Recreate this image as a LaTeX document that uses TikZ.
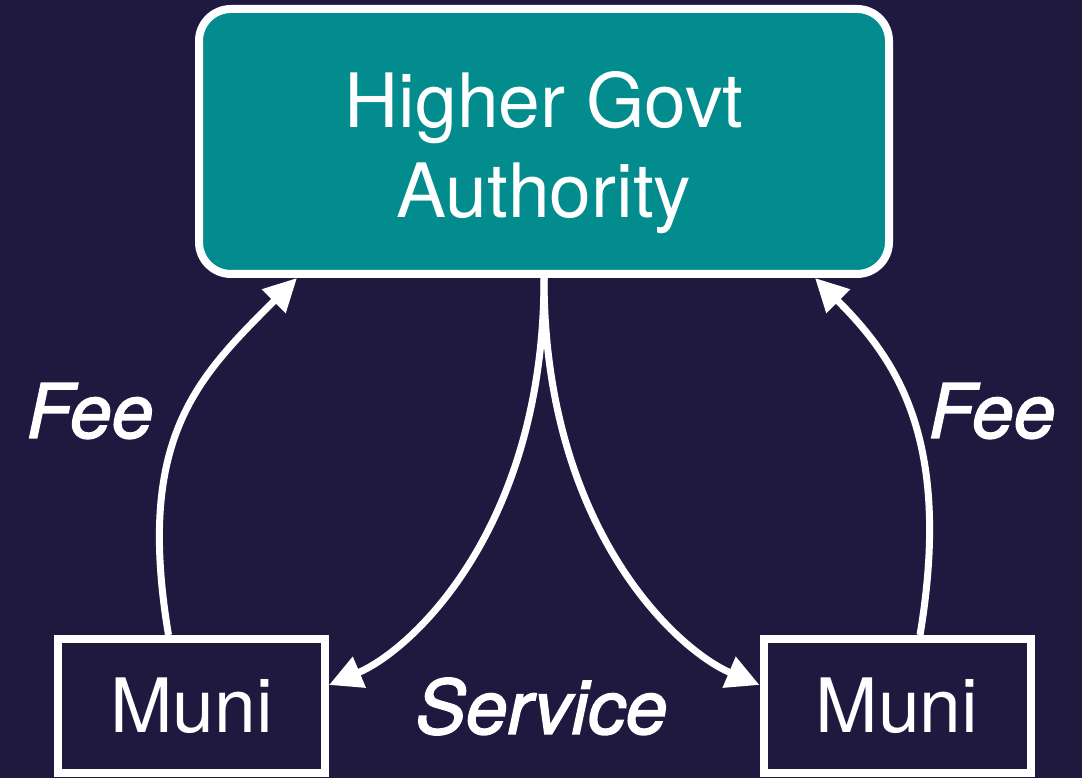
\documentclass[tikz,border=0pt]{standalone}
\usepackage{fontspec}
\setmainfont{TeX Gyre Heros}
\newfontface\labelfont[FakeBold=2]{texgyreheros-italic.otf}
\usetikzlibrary{arrows.meta}
\definecolor{bgnavy}{RGB}{31,25,64}
\definecolor{govteal}{RGB}{2,140,142}

\begin{document}
\begin{tikzpicture}[x=1pt,y=1pt,
    govbox/.style={draw=white, line width=8pt, fill=govteal, rounded corners=32pt, minimum width=690pt, minimum height=265pt},
    munibox/.style={draw=white, line width=8pt, fill=bgnavy, minimum width=267pt, minimum height=134pt, inner sep=0pt, text=white, font=\fontsize{75}{90}\selectfont},
    flow/.style={draw=white, line width=7pt, -{Triangle[length=33pt,width=32pt]}},
    lbl/.style={text=white, inner sep=0pt, font=\fontsize{75}{90}\selectfont\labelfont}]
\fill[bgnavy] (0,0) rectangle (1082,778);
\useasboundingbox (0,0) rectangle (1082,778);

\node[govbox] (gov) at (544,636.5) {};
\node[text=white, align=center, inner sep=0pt, font=\fontsize{75}{90}\selectfont] (govtext) at ([yshift=-11pt]gov.center) {Higher Govt\\Authority};

\foreach \x/\n in {191.5/muniL, 897/muniR} {%
    \node[munibox] (\n) at (\x,72) {Muni};
}

\draw[flow] ([xshift=-23pt]muniL.north) .. controls +(-33,197) and +(-100,-100) .. ([xshift=-247pt]gov.south);
\draw[flow] ([xshift=23pt]muniR.north) .. controls +(33,197) and +(80,-80) .. ([xshift=271pt]gov.south);
\draw[flow] (gov.south) .. controls +(0,-250) and +(83,35) .. ([yshift=21pt]muniL.east);
\draw[flow] (gov.south) .. controls +(0,-250) and +(-83,35) .. ([yshift=21pt]muniR.west);

\node[lbl] (feeL) at (90,367) {Fee};
\node[lbl] (feeR) at (992,367) {Fee};
\node[lbl] (service) at (541.5,71.5) {Service};
\end{tikzpicture}
\end{document}
